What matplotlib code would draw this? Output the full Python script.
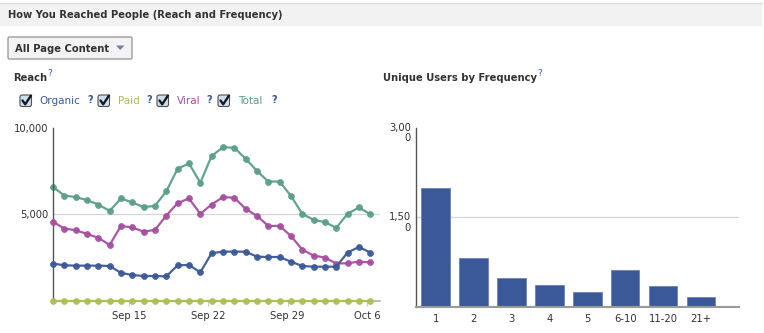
import matplotlib
matplotlib.use("Agg")
import matplotlib.pyplot as plt
from matplotlib.transforms import Affine2D, blended_transform_factory, offset_copy
from matplotlib.patches import Rectangle, FancyBboxPatch, Polygon
from matplotlib.lines import Line2D

# ---------------- data ----------------
dates = ["Sep 8", "Sep 9", "Sep 10", "Sep 11", "Sep 12", "Sep 13", "Sep 14",
         "Sep 15", "Sep 16", "Sep 17", "Sep 18", "Sep 19", "Sep 20", "Sep 21",
         "Sep 22", "Sep 23", "Sep 24", "Sep 25", "Sep 26", "Sep 27", "Sep 28",
         "Sep 29", "Sep 30", "Oct 1", "Oct 2", "Oct 3", "Oct 4", "Oct 5", "Oct 6"]
date_ticks = ["Sep 15", "Sep 22", "Sep 29", "Oct 6"]

organic = [2150, 2050, 2030, 2030, 2030, 2010, 1610, 1490, 1430, 1430, 1410,
           2050, 2070, 1640, 2750, 2840, 2840, 2840, 2550, 2530, 2530, 2260,
           2010, 1970, 1970, 1970, 2790, 3110, 2790]
paid = [0, 0, 0, 0, 0, 0, 0, 0, 0, 0, 0, 0, 0, 0, 0, 0, 0, 0, 0, 0, 0, 0,
        0, 0, 0, 0, 0, 0, 0]
viral = [4570, 4180, 4080, 3870, 3640, 3230, 4330, 4240, 4000, 4100, 4930,
         5650, 5920, 5030, 5570, 6000, 5960, 5320, 4910, 4330, 4330, 3750,
         2960, 2610, 2500, 2150, 2170, 2260, 2220]
total = [6580, 6090, 6000, 5820, 5570, 5200, 5920, 5690, 5420, 5490, 6340,
         7640, 7950, 6830, 8380, 8880, 8860, 8220, 7520, 6900, 6900, 6070,
         5030, 4680, 4550, 4220, 5030, 5400, 5010]
reach_ticks = [5000, 10000]

freq_labels = ["1", "2", "3", "4", "5", "6-10", "11-20", "21+"]
freq_users = [1990, 820, 490, 360, 250, 620, 340, 160]
freq_ticks = [1500, 3000]

# ---------------- figure ----------------
W, H = 764, 333
fig = plt.figure(figsize=(W / 100, H / 100), dpi=100)
fig.patch.set_facecolor("white")
pix = Affine2D().scale(1 / W, -1 / H).translate(0, 1) + fig.transFigure

TXT = "#333333"
QBLUE = "#3b5998"
C_ORG, C_PAID, C_VIR, C_TOT = "#3b5998", "#adbf55", "#a64ea0", "#5a9e8c"
FS = 7.2

# header band
fig.add_artist(Rectangle((0, 2.5), 762, 23.5, transform=pix, facecolor="#f2f2f2",
                         edgecolor="none"))
fig.add_artist(Line2D([0, 762], [2.5, 2.5], transform=pix, color="#dcdcdc", lw=1))
fig.text(8, 15, "How You Reached People (Reach and Frequency)", transform=pix,
         fontsize=FS, fontweight="bold", color=TXT, va="center", ha="left")

# dropdown button
fig.add_artist(FancyBboxPatch((8, 37), 124, 22, transform=pix,
                              boxstyle="round,pad=0,rounding_size=1.5",
                              facecolor="#f3f3f3", edgecolor="#9c9c9c", lw=1))
fig.text(15, 48.5, "All Page Content", transform=pix, fontsize=FS,
         fontweight="bold", color=TXT, va="center", ha="left")
fig.add_artist(Polygon([(116, 45.5), (124.5, 45.5), (120.25, 50)], closed=True,
                       transform=pix, facecolor="#6f80a8", edgecolor="none"))

# section titles
fig.text(13, 78, "Reach", transform=pix, fontsize=FS, fontweight="bold",
         color=TXT, va="center", ha="left")
fig.text(47, 73, "?", transform=pix, fontsize=6.5, color=QBLUE, va="center")
fig.text(383, 78, "Unique Users by Frequency", transform=pix, fontsize=FS,
         fontweight="bold", color=TXT, va="center", ha="left")
fig.text(537, 73, "?", transform=pix, fontsize=6.5, color=QBLUE, va="center")


def checkbox(x0, y0):
    fig.add_artist(FancyBboxPatch((x0, y0), 11.5, 11.5, transform=pix,
                                  boxstyle="round,pad=0,rounding_size=2",
                                  facecolor="#cddff3", edgecolor="#505050", lw=0.8))
    fig.add_artist(Line2D([x0 + 2.5, x0 + 5.2, x0 + 11], [y0 + 5.5, y0 + 9.3, y0 + 0.5],
                          transform=pix, color="#1a1a1a", lw=1.7,
                          solid_capstyle="round"))


legend = [("Organic", C_ORG, 20, 39, 87), ("Paid", C_PAID, 98, 118, 146),
          ("Viral", C_VIR, 157, 177, 206), ("Total", C_TOT, 218, 238, 271)]
for name, col, xb, xt, xq in legend:
    checkbox(xb, 95)
    fig.text(xt, 101.5, name, transform=pix, fontsize=7.5, color=col,
             va="center", ha="left")
    fig.text(xq, 100, "?", transform=pix, fontsize=7, color=QBLUE,
             va="center", ha="left", fontweight="bold")


def add_ax(left, right, top, bottom):
    return fig.add_axes([left / W, 1 - bottom / H, (right - left) / W, (bottom - top) / H])


# ---------------- reach line chart ----------------
ax = add_ax(53, 380, 128, 300.7)
x = list(range(len(dates)))
ax.set_xlim(0, 28.86)
ax.set_ylim(0, 10000)
ax.axhline(5000, color="#d6d6d6", lw=0.9, zorder=0)
for series, col, z in [(organic, C_ORG, 4), (viral, C_VIR, 3), (total, C_TOT, 2),
                       (paid, C_PAID, 5)]:
    ax.plot(x, series, color=col, lw=1.6, marker="o", markersize=4.3,
            markerfacecolor=col, markeredgecolor=col, markeredgewidth=0.5,
            clip_on=False, zorder=z, alpha=0.95)
for s in ["top", "right"]:
    ax.spines[s].set_visible(False)
ax.spines["left"].set_color("#555555")
ax.spines["left"].set_linewidth(1)
ax.spines["bottom"].set_color("#b0b0b0")
ax.spines["bottom"].set_linewidth(1.2)
ax.set_yticks(reach_ticks)
ax.set_yticklabels([f"{v:,}" for v in reach_ticks])
ax.tick_params(axis="y", length=0, pad=3, labelsize=FS, labelcolor=TXT)
tick_offset = -0.3
ax.set_xticks([dates.index(d) + tick_offset for d in date_ticks])
ax.set_xticklabels(date_ticks)
ax.tick_params(axis="x", length=3.6, width=0.8, color="#cccccc", pad=4,
               labelsize=FS, labelcolor=TXT)
ax.patch.set_alpha(0)

# ---------------- frequency bar chart ----------------
bx = add_ax(416, 739, 128, 306.7)
bx.set_xlim(-0.52, 8.0)
bx.set_ylim(0, 3000)
bx.axhline(1500, color="#d6d6d6", lw=0.9, zorder=0)
bx.bar(range(len(freq_labels)), freq_users, width=0.75, color="#3b5998",
       edgecolor="#6b82b8", linewidth=0.6, zorder=2)
for s in ["top", "right"]:
    bx.spines[s].set_visible(False)
bx.spines["left"].set_color("#555555")
bx.spines["left"].set_linewidth(1)
bx.spines["bottom"].set_color("#9a9a9a")
bx.spines["bottom"].set_linewidth(1.5)
bx.spines["bottom"].set_zorder(3)
bx.set_xticks(range(len(freq_labels)))
bx.set_xticklabels(freq_labels)
bx.tick_params(axis="x", length=0, pad=5, labelsize=FS, labelcolor=TXT)
bx.set_yticks([])
ytrans = offset_copy(blended_transform_factory(bx.transAxes, bx.transData),
                     fig=fig, x=0, y=5, units="dots")
for v in freq_ticks:
    s = f"{v:,}"
    bx.text(-5 / 323, v, s[:-1] + "\n" + s[-1], transform=ytrans, ha="right",
            va="top", fontsize=FS, color=TXT, linespacing=1.05,
            multialignment="right")
bx.patch.set_alpha(0)

fig.savefig("out.png", dpi=100, facecolor="white")
